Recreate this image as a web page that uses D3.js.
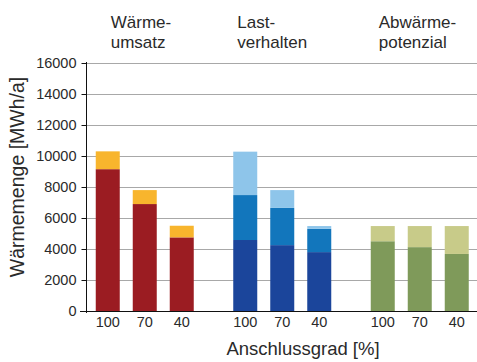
<!DOCTYPE html>
<html>
<head>
<meta charset="utf-8">
<script src="https://cdn.jsdelivr.net/npm/d3@7"></script>
<style>
  html, body { margin: 0; padding: 0; background: #fff; }
  svg { display: block; font-family: "Liberation Sans", Arial, Helvetica, sans-serif; }
</style>
</head>
<body>
<svg id="chart" width="477" height="362"></svg>
<script>
// ---- data ----
const groups = ["Wärmeumsatz", "Lastverhalten", "Abwärmepotenzial"];
const groupTitles = [["Wärme-", "umsatz"], ["Last-", "verhalten"], ["Abwärme-", "potenzial"]];
const categories = ["100", "70", "40"];
const yTicks = [0, 2000, 4000, 6000, 8000, 10000, 12000, 14000, 16000];

// Wärmeumsatz (2 segments)
const waermeBase = [9150, 6900, 4750];
const waermeTop  = [1150, 900, 750];
// Lastverhalten (3 segments)
const lastBase = [4580, 4250, 3800];
const lastMid  = [2900, 2400, 1500];
const lastTop  = [2800, 1150, 180];
// Abwärmepotenzial (2 segments)
const abwBase = [4500, 4120, 3680];
const abwTop  = [980, 1360, 1800];

const yTitle = "Wärmemenge [MWh/a]";
const xTitle = "Anschlussgrad [%]";

// ---- styles / layout ----
const groupColors = [
  ["#9b1c22", "#f8b52d"],
  ["#1b459b", "#1276bc", "#8ec5ea"],
  ["#7f9a5a", "#c8cb89"]
];
const titleOffset = [15, 4, 8];

const seriesByGroup = [
  [waermeBase, waermeTop],
  [lastBase, lastMid, lastTop],
  [abwBase, abwTop]
];

const svg = d3.select("#chart");
const W = 477, H = 362;
const plotLeft = 86, plotRight = 477, plotTop = 63, plotBottom = 311;

const y = d3.scaleLinear().domain([0, 16000]).range([plotBottom, plotTop]);

const outer = d3.scaleBand().domain(groups).range([76, 76 + 3 * 137.5]).padding(0);
const inner = d3.scaleBand().domain(categories).range([0, 111]).paddingInner(13 / 37).paddingOuter(13 / 74);
const innerShift = (outer.bandwidth() - 111) / 2;
const gx = g => outer(g) + innerShift;

// gridlines
svg.append("g").selectAll("line").data(yTicks.filter(d => d > 0)).join("line")
  .attr("x1", plotLeft).attr("x2", plotRight)
  .attr("y1", d => Math.round(y(d)) + 0.5).attr("y2", d => Math.round(y(d)) + 0.5)
  .attr("stroke", "#a8a8a8").attr("stroke-width", 1);

// bars
groups.forEach((g, gi) => {
  const series = seriesByGroup[gi];
  const rows = categories.map((c, i) => {
    const r = { cat: c };
    series.forEach((s, si) => r["s" + si] = s[i]);
    return r;
  });
  const keys = series.map((s, si) => "s" + si);
  const stacked = d3.stack().keys(keys)(rows);
  const gg = svg.append("g").attr("transform", `translate(${gx(g)},0)`);
  stacked.forEach((layer, li) => {
    gg.append("g").attr("fill", groupColors[gi][li])
      .selectAll("rect").data(layer).join("rect")
      .attr("x", d => inner(d.data.cat))
      .attr("width", inner.bandwidth())
      .attr("y", d => y(d[1]))
      .attr("height", d => y(d[0]) - y(d[1]));
  });
  // category labels
  gg.append("g").selectAll("text").data(categories).join("text")
    .attr("x", d => inner(d) + inner.bandwidth() / 2)
    .attr("y", 327)
    .attr("text-anchor", "middle")
    .attr("font-size", 14.5)
    .attr("fill", "#2a2a2a")
    .text(d => d);
  // group titles
  const t = svg.append("text")
    .attr("x", gx(g) + inner(categories[0]) + titleOffset[gi])
    .attr("y", 28)
    .attr("font-size", 17)
    .attr("fill", "#2a2a2a");
  groupTitles[gi].forEach((line, li) => {
    t.append("tspan").attr("x", gx(g) + inner(categories[0]) + titleOffset[gi])
      .attr("dy", li === 0 ? 0 : 19.5).text(line);
  });
});

// y axis
const yAxis = d3.axisLeft(y).tickValues(yTicks).tickSize(5).tickPadding(5).tickFormat(d3.format("d"));
const ya = svg.append("g").attr("transform", `translate(${plotLeft + 0.5},0)`).call(yAxis);
ya.select(".domain").attr("stroke", "#111").attr("d", `M0,${plotTop - 1}V${plotBottom + 2}`);
ya.selectAll(".tick line").attr("stroke", "#111");
ya.selectAll(".tick text").attr("font-size", 14.5).attr("fill", "#2a2a2a")
  .attr("font-family", "Liberation Sans, Arial, sans-serif");

// x baseline
svg.append("line")
  .attr("x1", plotLeft - 6).attr("x2", plotRight)
  .attr("y1", Math.round(y(0)) + 0.5).attr("y2", Math.round(y(0)) + 0.5)
  .attr("stroke", "#111").attr("stroke-width", 1.2);

// axis titles
svg.append("text")
  .attr("transform", `translate(24,${(plotTop + plotBottom) / 2 - 10}) rotate(-90)`)
  .attr("text-anchor", "middle")
  .attr("font-size", 19.5)
  .attr("fill", "#2a2a2a")
  .text(yTitle);

svg.append("text")
  .attr("x", 303).attr("y", 355)
  .attr("text-anchor", "middle")
  .attr("font-size", 18.5)
  .attr("fill", "#2a2a2a")
  .text(xTitle);
</script>
</body>
</html>
